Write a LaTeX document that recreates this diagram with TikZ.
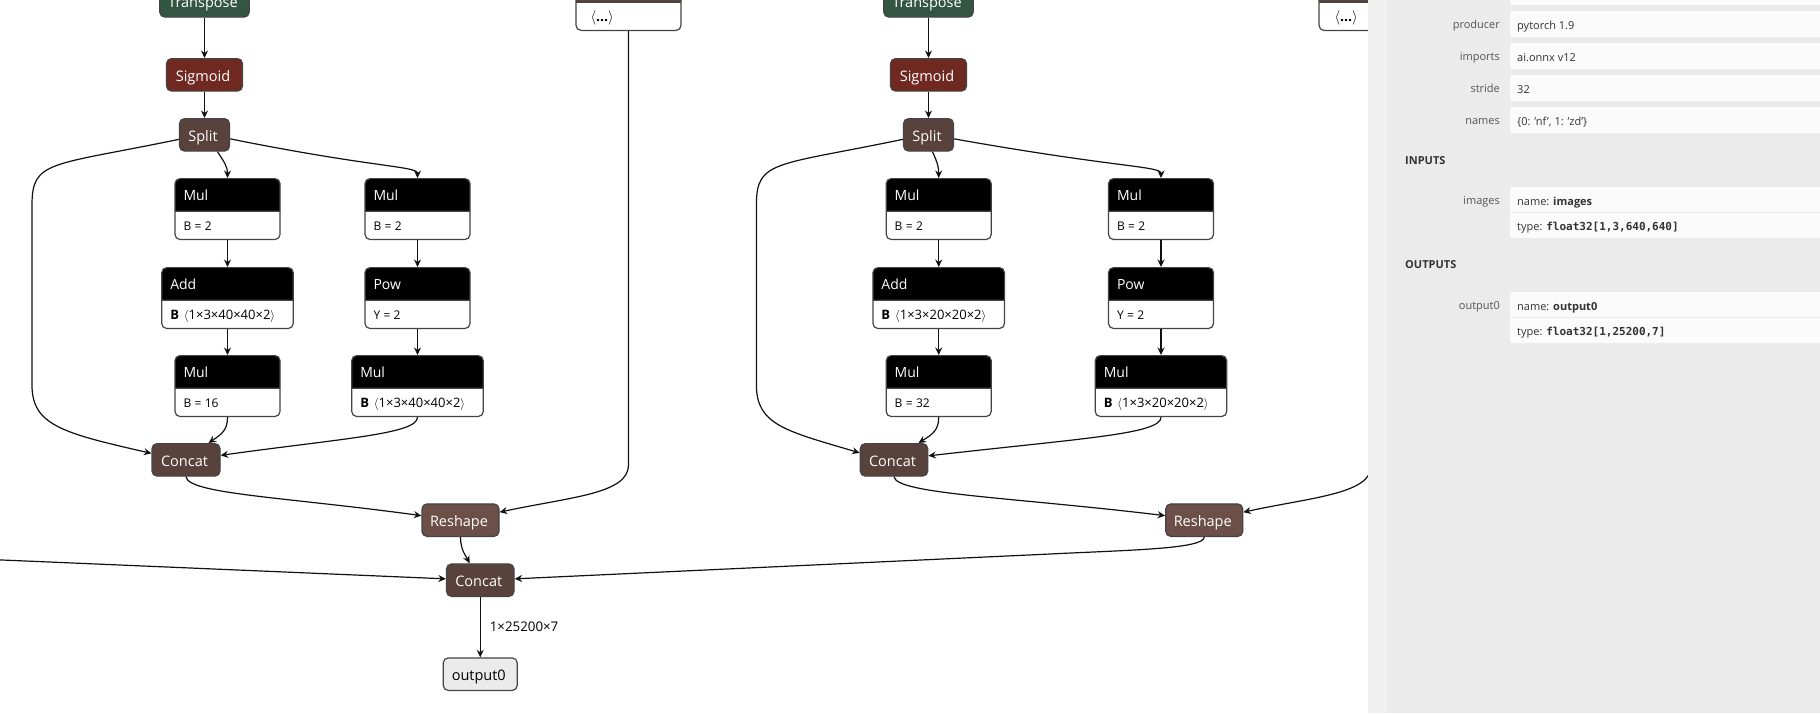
\documentclass[tikz,border=0pt]{standalone}
\usepackage{amsmath}
\usepackage{fontspec}
\setmainfont{Open Sans}
\setmonofont{DejaVu Sans Mono}
\usepackage{tikz}
\usetikzlibrary{arrows.meta, shapes.multipart}

\definecolor{edgeclr}{HTML}{111111}
\definecolor{frameclr}{HTML}{444444}
\definecolor{tensorclr}{RGB}{89,66,59}
\definecolor{shapeclr}{RGB}{108,79,71}
\definecolor{activclr}{RGB}{112,41,33}
\definecolor{transclr}{RGB}{51,85,68}
\definecolor{panelclr}{HTML}{EBEBEB}
\definecolor{stripclr}{HTML}{EFEFEF}
\definecolor{rowclr}{HTML}{FBFBFB}
\definecolor{keyclr}{HTML}{555555}
\definecolor{valclr}{HTML}{333333}

\newcommand{\optitle}[1]{\rule[-10pt]{0pt}{31.5pt}\fontsize{14}{16}\selectfont\color{white}#1}
\newcommand{\opattr}[1]{\rule[-8.5pt]{0pt}{27pt}\fontsize{12}{14}\selectfont\color{black}#1}
\newcommand{\opshape}[1]{\rule[-8.5pt]{0pt}{27pt}\fontsize{13}{14}\selectfont\color{black}\textbf{B}\hspace{5pt}$\langle$#1$\rangle$}
\newcommand{\opdots}[1]{\rule[-8.5pt]{0pt}{27pt}\hspace{#1}\fontsize{14}{14}\selectfont\color{black}$\langle$\textbf{...}$\rangle$}

\tikzset{
  opnode/.style={rectangle split, rectangle split parts=2, rectangle split part fill={black,white},
    draw=frameclr, line width=1.2pt, rounded corners=5pt, inner xsep=8.5pt, inner ysep=0pt,
    text width=#1, anchor=north},
  plainop/.style={draw=frameclr, line width=1.2pt, rounded corners=5pt, anchor=north, inner xsep=0pt,
    inner ysep=0pt, text height=22.5pt, text depth=10pt, text=white, font=\fontsize{14.5}{16}\selectfont,
    execute at begin node={\hspace*{-3pt}}},
  panelkey/.style={anchor=base east, inner sep=0pt, text=keyclr, font=\fontsize{11}{13}\selectfont},
  panelval/.style={anchor=base west, inner sep=0pt, text=valclr, font=\fontsize{11}{13}\selectfont},
  panelhead/.style={anchor=base west, inner sep=0pt, text=valclr, font=\fontsize{11}{13}\selectfont\bfseries},
  flow/.style={-{Stealth[length=7.5pt,width=7pt,inset=2.5pt]}, draw=edgeclr, line width=1.2pt}
}

\begin{document}
\begin{tikzpicture}[x=1pt,y=-1pt]
  \useasboundingbox (0,0) rectangle (1820,713);
  \clip (0,0) rectangle (1820,713);
  \fill[white] (0,0) rectangle (1820,713);

  % first branch
  \node[plainop, fill=transclr, minimum width=89.5pt] (transA) at (204.5,-16) {Transpose};
  \node[plainop, fill=activclr, minimum width=76pt] (sigmA) at (204.5,58) {Sigmoid};
  \node[plainop, fill=tensorclr, minimum width=50pt] (splitA) at (204.5,118) {Split};
  \node[opnode=88pt] (mulA) at (227.5,178) {\optitle{Mul}\nodepart{two}\opattr{B = 2}};
  \node[opnode=88pt] (mulB) at (417.5,178) {\optitle{Mul}\nodepart{two}\opattr{B = 2}};
  \node[opnode=114.5pt] (addA) at (227.5,267) {\optitle{Add}\nodepart{two}\opshape{1×3×40×40×2}};
  \node[opnode=88pt] (powA) at (417.5,267) {\optitle{Pow}\nodepart{two}\opattr{Y = 2}};
  \node[opnode=88pt] (mulC) at (227.5,355) {\optitle{Mul}\nodepart{two}\opattr{B = 16}};
  \node[opnode=114.5pt] (mulD) at (417.5,355) {\optitle{Mul}\nodepart{two}\opshape{1×3×40×40×2}};
  \node[plainop, fill=tensorclr, minimum width=68pt] (concatA) at (186,443) {Concat};
  \node[plainop, fill=shapeclr, minimum width=77pt] (reshapeA) at (460.5,503.3) {Reshape};
  \node[opnode=88pt, anchor=south, rectangle split part fill={tensorclr,white}] (dotsA) at (628.5,31) {\optitle{}\nodepart{two}\opdots{6pt}};

  % second branch
  \node[plainop, fill=transclr, minimum width=89.5pt] (transB) at (928.5,-16) {Transpose};
  \node[plainop, fill=activclr, minimum width=76pt] (sigmB) at (928.5,58) {Sigmoid};
  \node[plainop, fill=tensorclr, minimum width=50pt] (splitB) at (928.5,118) {Split};
  \node[opnode=88pt] (mulE) at (938.7,178) {\optitle{Mul}\nodepart{two}\opattr{B = 2}};
  \node[opnode=88pt] (mulF) at (1161,178) {\optitle{Mul}\nodepart{two}\opattr{B = 2}};
  \node[opnode=114.5pt] (addB) at (938.7,267) {\optitle{Add}\nodepart{two}\opshape{1×3×20×20×2}};
  \node[opnode=88pt] (powB) at (1161,267) {\optitle{Pow}\nodepart{two}\opattr{Y = 2}};
  \node[opnode=88pt] (mulG) at (938.7,355) {\optitle{Mul}\nodepart{two}\opattr{B = 32}};
  \node[opnode=114.5pt] (mulH) at (1161,355) {\optitle{Mul}\nodepart{two}\opshape{1×3×20×20×2}};
  \node[plainop, fill=tensorclr, minimum width=67.5pt] (concatB) at (894,443) {Concat};
  \node[plainop, fill=shapeclr, minimum width=77pt] (reshapeB) at (1204.25,503.3) {Reshape};
  \node[opnode=88pt, anchor=south, rectangle split part fill={tensorclr,white}] (dotsB) at (1371.5,31) {\optitle{}\nodepart{two}\opdots{7pt}};

  % tail
  \node[plainop, fill=tensorclr, minimum width=67.5pt] (concatC) at (480.25,563.3) {Concat};
  \node[plainop, fill=panelclr, text=black, minimum width=74pt] (outp) at (480.25,657.3) {output0};
  \coordinate (offL) at (-5,559.7);

  \path[flow]
    (transA) edge (sigmA)
    (sigmA) edge (splitA)
    (mulA) edge (addA)
    (addA) edge (mulC)
    (mulB) edge (powA)
    (powA) edge (mulD)
    (transB) edge (sigmB)
    (sigmB) edge (splitB)
    (mulE) edge (addB)
    (addB) edge (mulG)
    (mulF) edge (powB)
    (powB) edge (mulH)
    (concatC) edge node [right, text=black, inner xsep=9pt, font=\fontsize{13.3}{15}\selectfont] {1×25200×7} (outp)
    (offL) edge ([yshift=1.3pt]concatC.west);

  % curved edges, first branch
  \draw[flow] ([xshift=13pt]splitA.south) .. controls (224,162) and (227.5,166) .. (mulA.north);
  \draw[flow] ([yshift=-4pt]splitA.east) .. controls (375,168) and (417.5,166) .. (mulB.north);
  \draw[flow] ([yshift=-4.5pt]splitA.west) .. controls (50,166) and (32,160) .. (32,205) -- (32,385) .. controls (32,425) and (62,433) .. ([yshift=6.5pt]concatA.west);
  \draw[flow] (mulC.south) .. controls (227.5,430) and (222,434) .. ([xshift=22.5pt]concatA.north);
  \draw[flow] (mulD.south) .. controls (417.5,434) and (345,438) .. ([yshift=4.5pt]concatA.east);
  \draw[flow] (concatA.south) .. controls (188,494) and (285,497) .. ([yshift=4.5pt]reshapeA.west);
  \draw[flow] (dotsA.south) -- (628.5,465) .. controls (628.5,494) and (570,497) .. ([yshift=8pt]reshapeA.east);
  \draw[flow] (reshapeA.south) .. controls (460.5,550) and (466,556) .. ([xshift=-10.7pt]concatC.north);

  % curved edges, second branch
  \draw[flow] ([xshift=4pt]splitB.south) .. controls (937,162) and (938.7,166) .. (mulE.north);
  \draw[flow] ([yshift=-4pt]splitB.east) .. controls (1118,168) and (1161,166) .. (mulF.north);
  \draw[flow] ([yshift=-4.5pt]splitB.west) .. controls (774.4,166) and (756.4,160) .. (756.4,205) -- (756.4,385) .. controls (756.4,425) and (786,431) .. ([yshift=7pt]concatB.west);
  \draw[flow] (mulG.south) .. controls (938.7,430) and (933,434) .. ([xshift=24.5pt]concatB.north);
  \draw[flow] (mulH.south) .. controls (1161,434) and (1085,438) .. ([yshift=4pt]concatB.east);
  \draw[flow] (concatB.south) .. controls (896,494) and (1010,497) .. ([yshift=4.5pt]reshapeB.west);
  \draw[flow] (dotsB.south) -- (1371.5,465) .. controls (1371.5,494) and (1313,497) .. ([yshift=8pt]reshapeB.east);
  \draw[flow] (reshapeB.south) .. controls (1204,549) and (1130,550) .. (1050,554) -- ([yshift=1.3pt]concatC.east);

  % side panel
  \fill[stripclr] (1368,0) rectangle (1385,713);
  \fill[panelclr] (1385,0) rectangle (1820,713);
  \draw[white!60!stripclr, line width=1pt] (1385,0) -- (1385,713);
  \fill[rowclr] (1510,-5) rectangle (1830,5);
  \fill[rowclr, rounded corners=2pt] (1510,11) rectangle (1830,37);
  \fill[rowclr, rounded corners=2pt] (1510,43) rectangle (1830,69);
  \fill[rowclr, rounded corners=2pt] (1510,75) rectangle (1830,101);
  \fill[rowclr, rounded corners=2pt] (1510,107) rectangle (1830,133);
  \fill[rowclr, rounded corners=2pt] (1510,187) rectangle (1830,238);
  \fill[rowclr, rounded corners=2pt] (1510,292) rectangle (1830,343);
  \draw[panelclr, line width=1pt] (1510,212.5) -- (1820,212.5);
  \draw[panelclr, line width=1pt] (1510,317.5) -- (1820,317.5);

  \node[panelkey] (keyProd) at (1500,28.3) {producer};
  \node[panelval] (valProd) at (1517,29.3) {pytorch 1.9};
  \node[panelkey] (keyImp) at (1500,60) {imports};
  \node[panelval] (valImp) at (1517,61.3) {ai.onnx v12};
  \node[panelkey] (keyStr) at (1500,92) {stride};
  \node[panelval] (valStr) at (1517,93.3) {32};
  \node[panelkey] (keyNam) at (1500,124) {names};
  \node[panelval] (valNam) at (1517,125.3) {\{0: 'nf', 1: 'zd'\}};
  \node[panelhead] (headIn) at (1405,164) {INPUTS};
  \node[panelkey] (keyImg) at (1500,204) {images};
  \node[panelval] (valImgN) at (1517,205) {name: \textbf{images}};
  \node[panelval] (valImgT) at (1517,230) {type: \texttt{\textbf{float32[1,3,640,640]}}};
  \node[panelhead] (headOut) at (1405,268.7) {OUTPUTS};
  \node[panelkey] (keyOut) at (1500,309) {output0};
  \node[panelval] (valOutN) at (1517,310) {name: \textbf{output0}};
  \node[panelval] (valOutT) at (1517,335) {type: \texttt{\textbf{float32[1,25200,7]}}};
\end{tikzpicture}
\end{document}
